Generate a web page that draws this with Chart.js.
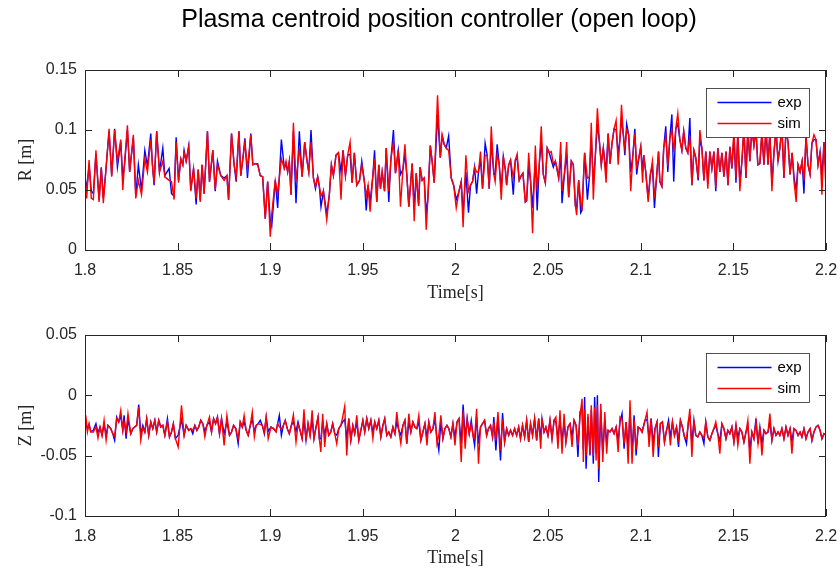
<!DOCTYPE html>
<html lang="en">
<head>
<meta charset="UTF-8">
<title>Plasma centroid position controller</title>
<script src="https://cdn.jsdelivr.net/npm/chart.js"></script>
<style>
    body {
        margin: 0;
        width: 840px;
        height: 572px;
        position: relative;
        overflow: hidden;
        background: #fff;
        font-family: 'Liberation Sans', Arial, sans-serif;
    }
    #title {
        position: absolute;
        top: 4px;
        left: 0;
        width: 840px;
        padding-left: 38px;
        box-sizing: border-box;
        text-align: center;
        font-size: 25px;
        line-height: 28px;
        color: #000;
        z-index: 2;
    }
    .panel { position: absolute; left: 0; }
</style>
</head>
<body>
<div id="title">Plasma centroid position controller (open loop)</div>
<canvas id="rChart" class="panel" style="top:0" width="840" height="310"></canvas>
<canvas id="zChart" class="panel" style="top:310px" width="840" height="262"></canvas>

<script>
// time axis ticks
const xTicks = [1.8, 1.85, 1.9, 1.95, 2.0, 2.05, 2.1, 2.15, 2.2];
const xTickLabels = ['1.8', '1.85', '1.9', '1.95', '2', '2.05', '2.1', '2.15', '2.2'];
const rTicks = [0, 0.05, 0.1, 0.15];
const rTickLabels = ['0', '0.05', '0.1', '0.15'];
const zTicks = [-0.1, -0.05, 0, 0.05];
const zTickLabels = ['-0.1', '-0.05', '0', '0.05'];
const seriesNames = ['exp', 'sim'];

// R position [m]
const tR = [
    1.8000,1.8009,1.8022,1.8034,1.8045,1.8059,1.8076,1.8088,1.8099,1.8112,
    1.8130,1.8144,1.8160,1.8175,1.8193,1.8204,1.8214,1.8229,1.8241,1.8261,
    1.8274,1.8288,1.8305,1.8323,1.8337,1.8355,1.8364,1.8373,1.8387,1.8402,
    1.8420,1.8431,1.8454,1.8467,1.8481,1.8492,1.8505,1.8517,1.8528,1.8535,
    1.8546,1.8560,1.8571,1.8586,1.8600,1.8611,1.8622,1.8632,1.8643,1.8661,
    1.8672,1.8690,1.8703,1.8715,1.8733,1.8751,1.8766,1.8775,1.8791,1.8805,
    1.8816,1.8831,1.8841,1.8852,1.8863,1.8877,1.8895,1.8906,1.8921,1.8932,
    1.8946,1.8959,1.8973,1.8986,1.9000,1.9008,1.9027,1.9040,1.9060,1.9076,
    1.9085,1.9094,1.9103,1.9112,1.9125,1.9139,1.9157,1.9172,1.9186,1.9197,
    1.9208,1.9220,1.9233,1.9244,1.9256,1.9265,1.9274,1.9287,1.9305,1.9319,
    1.9330,1.9341,1.9355,1.9368,1.9382,1.9393,1.9406,1.9418,1.9431,1.9442,
    1.9454,1.9467,1.9482,1.9494,1.9509,1.9518,1.9528,1.9539,1.9554,1.9563,
    1.9575,1.9586,1.9595,1.9604,1.9617,1.9626,1.9640,1.9651,1.9665,1.9676,
    1.9691,1.9703,1.9716,1.9727,1.9737,1.9748,1.9766,1.9777,1.9788,1.9801,
    1.9809,1.9820,1.9831,1.9842,1.9851,1.9864,1.9874,1.9885,1.9903,1.9918,
    1.9928,1.9939,1.9950,1.9963,1.9977,1.9990,2.0004,2.0019,2.0031,2.0041,
    2.0056,2.0070,2.0081,2.0092,2.0103,2.0114,2.0124,2.0135,2.0146,2.0160,
    2.0171,2.0182,2.0193,2.0207,2.0214,2.0225,2.0236,2.0247,2.0258,2.0269,
    2.0276,2.0287,2.0297,2.0312,2.0323,2.0333,2.0344,2.0355,2.0364,2.0377,
    2.0384,2.0395,2.0405,2.0416,2.0431,2.0441,2.0452,2.0463,2.0474,2.0485,
    2.0495,2.0506,2.0517,2.0528,2.0539,2.0546,2.0557,2.0568,2.0575,2.0589,
    2.0600,2.0611,2.0625,2.0636,2.0647,2.0654,2.0665,2.0676,2.0683,2.0697,
    2.0712,2.0723,2.0733,2.0744,2.0755,2.0766,2.0777,2.0787,2.0798,2.0813,
    2.0824,2.0834,2.0845,2.0856,2.0867,2.0878,2.0888,2.0896,2.0906,2.0914,
    2.0924,2.0935,2.0946,2.0957,2.0968,2.0978,2.0989,2.1000,2.1010,2.1016,
    2.1027,2.1040,2.1052,2.1063,2.1074,2.1085,2.1096,2.1103,2.1114,2.1124,
    2.1135,2.1146,2.1157,2.1168,2.1178,2.1189,2.1200,2.1211,2.1222,2.1232,
    2.1243,2.1254,2.1265,2.1276,2.1287,2.1297,2.1310,2.1319,2.1330,2.1341,
    2.1351,2.1362,2.1373,2.1384,2.1395,2.1405,2.1416,2.1427,2.1438,2.1449,
    2.1460,2.1471,2.1481,2.1492,2.1503,2.1514,2.1524,2.1535,2.1546,2.1557,
    2.1568,2.1578,2.1589,2.1600,2.1611,2.1622,2.1632,2.1643,2.1654,2.1665,
    2.1676,2.1687,2.1697,2.1708,2.1719,2.1730,2.1741,2.1751,2.1762,2.1773,
    2.1784,2.1795,2.1806,2.1817,2.1828,2.1839,2.1849,2.1860,2.1871,2.1881,
    2.1892,2.1903,2.1914,2.1924,2.1935,2.1946,2.1957,2.1968,2.1978,2.1989,
    2.2000
];
const rExp = [
    .062,.050,.071,.049,.047,.080,.042,.069,.043,.065,
    .099,.062,.101,.069,.090,.060,.072,.100,.065,.094,
    .045,.071,.050,.083,.070,.097,.071,.054,.099,.065,
    .085,.062,.068,.047,.045,.094,.058,.076,.071,.083,
    .074,.087,.050,.068,.038,.067,.042,.071,.047,.099,
    .057,.083,.049,.074,.062,.060,.062,.042,.097,.071,
    .057,.099,.062,.076,.093,.060,.097,.071,.072,.072,
    .062,.061,.026,.057,.025,.020,.058,.035,.092,.068,
    .072,.065,.074,.046,.099,.039,.099,.061,.090,.076,
    .065,.100,.060,.051,.061,.053,.036,.049,.030,.046,
    .071,.062,.079,.081,.065,.083,.062,.079,.080,.056,
    .081,.054,.058,.074,.056,.033,.054,.040,.062,.083,
    .040,.071,.051,.065,.049,.085,.040,.075,.100,.064,
    .083,.063,.067,.080,.063,.036,.072,.035,.064,.037,
    .069,.058,.060,.030,.043,.087,.074,.056,.113,.077,
    .095,.088,.085,.095,.060,.054,.042,.049,.057,.030,
    .065,.031,.054,.057,.069,.047,.065,.075,.051,.089,
    .079,.051,.090,.063,.063,.088,.071,.050,.078,.067,
    .054,.071,.075,.046,.075,.076,.058,.062,.064,.040,
    .041,.070,.058,.035,.075,.033,.071,.090,.063,.056,
    .085,.081,.075,.069,.074,.069,.060,.080,.039,.065,
    .080,.044,.074,.071,.037,.036,.058,.031,.033,.081,
    .042,.061,.095,.055,.079,.105,.090,.071,.085,.065,
    .097,.072,.089,.101,.100,.080,.093,.110,.096,.079,
    .105,.096,.065,.078,.101,.063,.076,.086,.065,.079,
    .065,.043,.063,.070,.035,.060,.082,.057,.053,.085,
    .103,.065,.093,.113,.057,.101,.105,.092,.083,.099,
    .085,.081,.110,.054,.083,.077,.058,.092,.085,.058,
    .082,.055,.082,.068,.082,.049,.085,.065,.081,.061,
    .082,.054,.086,.068,.095,.056,.098,.056,.074,.100,
    .060,.100,.074,.103,.087,.100,.071,.072,.097,.071,
    .101,.071,.098,.055,.081,.100,.074,.085,.104,.060,
    .100,.090,.063,.081,.060,.050,.071,.065,.074,.047,
    .096,.071,.063,.089,.092,.092,.071,.082,.060,.090,
    .065
];
const rSim = [
    .062,.043,.075,.043,.042,.083,.040,.068,.039,.065,
    .101,.061,.100,.074,.092,.050,.074,.104,.065,.096,
    .043,.058,.046,.076,.065,.092,.071,.056,.099,.065,
    .074,.061,.058,.057,.042,.090,.056,.076,.071,.081,
    .074,.086,.049,.068,.043,.067,.040,.071,.047,.099,
    .057,.083,.050,.071,.062,.058,.062,.042,.097,.071,
    .061,.099,.062,.076,.089,.068,.096,.071,.072,.071,
    .062,.061,.026,.057,.011,.030,.058,.047,.076,.068,
    .074,.065,.074,.046,.106,.057,.085,.061,.090,.076,
    .065,.090,.060,.053,.061,.053,.045,.049,.025,.046,
    .071,.062,.079,.081,.042,.083,.062,.079,.090,.056,
    .081,.054,.058,.071,.056,.045,.054,.032,.062,.076,
    .040,.071,.051,.065,.049,.085,.049,.075,.090,.064,
    .083,.036,.067,.088,.063,.036,.072,.024,.064,.037,
    .069,.058,.060,.017,.043,.087,.074,.056,.129,.077,
    .096,.088,.085,.083,.060,.054,.035,.049,.057,.019,
    .079,.049,.054,.057,.069,.065,.065,.082,.051,.079,
    .079,.051,.103,.063,.057,.080,.071,.042,.078,.067,
    .054,.071,.075,.060,.075,.080,.058,.062,.064,.040,
    .041,.081,.058,.014,.087,.050,.071,.103,.063,.056,
    .085,.081,.082,.072,.074,.069,.060,.090,.049,.065,
    .090,.044,.074,.071,.037,.029,.058,.040,.033,.081,
    .060,.061,.106,.042,.079,.118,.090,.071,.085,.056,
    .097,.072,.089,.101,.108,.071,.093,.121,.096,.085,
    .100,.096,.049,.078,.097,.070,.076,.086,.056,.079,
    .065,.040,.063,.074,.043,.060,.082,.057,.053,.085,
    .095,.070,.093,.100,.082,.101,.114,.092,.083,.099,
    .085,.081,.095,.054,.083,.077,.060,.100,.085,.058,
    .082,.051,.082,.068,.082,.052,.085,.065,.081,.061,
    .082,.054,.086,.068,.100,.060,.098,.049,.074,.104,
    .060,.103,.074,.100,.087,.102,.071,.072,.100,.071,
    .104,.071,.098,.049,.081,.102,.074,.085,.101,.060,
    .102,.090,.063,.081,.056,.040,.071,.065,.074,.058,
    .094,.071,.063,.089,.096,.092,.071,.082,.046,.090,
    .050
];

// Z position [m]
const tZ = [
    1.8004,1.8013,1.8022,1.8031,1.8045,1.8059,1.8070,1.8081,1.8092,1.8103,
    1.8114,1.8124,1.8139,1.8150,1.8160,1.8171,1.8182,1.8193,1.8204,1.8211,
    1.8222,1.8232,1.8247,1.8258,1.8268,1.8279,1.8290,1.8301,1.8312,1.8323,
    1.8333,1.8344,1.8355,1.8366,1.8377,1.8387,1.8398,1.8409,1.8420,1.8431,
    1.8445,1.8456,1.8467,1.8477,1.8488,1.8503,1.8521,1.8535,1.8546,1.8560,
    1.8571,1.8582,1.8593,1.8604,1.8614,1.8625,1.8636,1.8647,1.8658,1.8672,
    1.8683,1.8694,1.8705,1.8715,1.8726,1.8737,1.8751,1.8766,1.8780,1.8791,
    1.8802,1.8814,1.8827,1.8838,1.8849,1.8859,1.8870,1.8881,1.8892,1.8903,
    1.8914,1.8924,1.8935,1.8946,1.8957,1.8968,1.8978,1.8989,1.9004,1.9018,
    1.9031,1.9040,1.9049,1.9060,1.9071,1.9081,1.9092,1.9103,1.9114,1.9125,
    1.9139,1.9150,1.9161,1.9172,1.9182,1.9193,1.9204,1.9215,1.9226,1.9236,
    1.9247,1.9258,1.9265,1.9273,1.9283,1.9294,1.9305,1.9316,1.9327,1.9337,
    1.9348,1.9359,1.9370,1.9381,1.9391,1.9402,1.9413,1.9424,1.9435,1.9446,
    1.9456,1.9467,1.9478,1.9489,1.9500,1.9510,1.9521,1.9532,1.9543,1.9554,
    1.9564,1.9575,1.9586,1.9597,1.9608,1.9618,1.9629,1.9640,1.9651,1.9662,
    1.9673,1.9683,1.9694,1.9705,1.9716,1.9727,1.9737,1.9748,1.9759,1.9770,
    1.9781,1.9791,1.9802,1.9813,1.9824,1.9835,1.9846,1.9856,1.9867,1.9878,
    1.9889,1.9900,1.9910,1.9921,1.9932,1.9943,1.9954,1.9964,1.9975,1.9986,
    1.9997,2.0008,2.0019,2.0031,2.0041,2.0052,2.0063,2.0074,2.0085,2.0096,
    2.0103,2.0114,2.0124,2.0135,2.0146,2.0157,2.0168,2.0178,2.0189,2.0200,
    2.0207,2.0218,2.0229,2.0243,2.0254,2.0265,2.0276,2.0287,2.0297,2.0308,
    2.0319,2.0330,2.0341,2.0351,2.0362,2.0373,2.0384,2.0395,2.0405,2.0416,
    2.0427,2.0438,2.0449,2.0460,2.0467,2.0478,2.0488,2.0499,2.0510,2.0521,
    2.0532,2.0542,2.0553,2.0564,2.0575,2.0586,2.0596,2.0607,2.0618,2.0629,
    2.0640,2.0651,2.0661,2.0672,2.0683,2.0690,2.0697,2.0705,2.0715,2.0726,
    2.0733,2.0744,2.0751,2.0759,2.0766,2.0773,2.0784,2.0795,2.0806,2.0816,
    2.0824,2.0834,2.0845,2.0856,2.0867,2.0878,2.0888,2.0899,2.0910,2.0921,
    2.0932,2.0942,2.0953,2.0964,2.0975,2.0986,2.0997,2.1007,2.1023,2.1034,
    2.1045,2.1056,2.1067,2.1077,2.1088,2.1095,2.1106,2.1117,2.1128,2.1139,
    2.1150,2.1160,2.1171,2.1182,2.1193,2.1204,2.1214,2.1225,2.1236,2.1247,
    2.1258,2.1265,2.1276,2.1287,2.1297,2.1308,2.1319,2.1330,2.1341,2.1351,
    2.1362,2.1373,2.1384,2.1395,2.1405,2.1416,2.1427,2.1438,2.1449,2.1460,
    2.1470,2.1481,2.1492,2.1503,2.1514,2.1524,2.1535,2.1546,2.1557,2.1568,
    2.1578,2.1589,2.1600,2.1611,2.1622,2.1633,2.1643,2.1654,2.1665,2.1676,
    2.1687,2.1697,2.1708,2.1719,2.1730,2.1741,2.1751,2.1762,2.1773,2.1784,
    2.1795,2.1806,2.1816,2.1827,2.1838,2.1849,2.1860,2.1870,2.1881,2.1892,
    2.1903,2.1914,2.1924,2.1935,2.1946,2.1957,2.1968,2.1978,2.1989,2.2000
];
const zExp = [
    -.0220,-.0280,-.0240,-.0300,-.0290,-.0235,-.0310,-.0263,-.0332,-.0240,
    -.0330,-.0249,-.0276,-.0318,-.0373,-.0180,-.0221,-.0170,-.0290,-.0166,
    -.0359,-.0200,-.0318,-.0276,-.0263,-.0249,-.0077,-.0320,-.0249,-.0304,
    -.0193,-.0332,-.0221,-.0276,-.0207,-.0304,-.0207,-.0263,-.0249,-.0332,
    -.0193,-.0345,-.0304,-.0235,-.0359,-.0330,-.0200,-.0332,-.0249,-.0290,
    -.0276,-.0318,-.0249,-.0290,-.0263,-.0207,-.0235,-.0300,-.0249,-.0220,
    -.0304,-.0193,-.0235,-.0180,-.0318,-.0193,-.0320,-.0220,-.0332,-.0304,
    -.0249,-.0276,-.0401,-.0221,-.0263,-.0220,-.0290,-.0332,-.0249,-.0200,
    -.0300,-.0249,-.0235,-.0207,-.0249,-.0318,-.0180,-.0300,-.0263,-.0276,
    -.0300,-.0235,-.0166,-.0332,-.0249,-.0207,-.0276,-.0318,-.0249,-.0220,
    -.0300,-.0221,-.0290,-.0359,-.0200,-.0373,-.0235,-.0332,-.0200,-.0359,
    -.0263,-.0180,-.0359,-.0360,-.0220,-.0330,-.0235,-.0332,-.0304,-.0235,
    -.0318,-.0330,-.0276,-.0249,-.0220,-.0200,-.0360,-.0193,-.0373,-.0249,
    -.0318,-.0220,-.0373,-.0290,-.0207,-.0304,-.0193,-.0276,-.0207,-.0310,
    -.0221,-.0276,-.0207,-.0345,-.0249,-.0193,-.0332,-.0304,-.0345,-.0263,
    -.0318,-.0220,-.0290,-.0330,-.0249,-.0207,-.0401,-.0220,-.0304,-.0221,
    -.0263,-.0276,-.0220,-.0373,-.0304,-.0235,-.0350,-.0221,-.0304,-.0276,
    -.0200,-.0360,-.0456,-.0220,-.0359,-.0276,-.0249,-.0276,-.0345,-.0235,
    -.0350,-.0221,-.0193,-.0400,-.0077,-.0350,-.0193,-.0318,-.0207,-.0345,
    -.0415,-.0180,-.0400,-.0263,-.0235,-.0207,-.0332,-.0276,-.0249,-.0345,
    -.0180,-.0456,-.0180,-.0539,-.0146,-.0387,-.0276,-.0332,-.0290,-.0332,
    -.0276,-.0332,-.0263,-.0359,-.0249,-.0345,-.0207,-.0387,-.0235,-.0332,
    -.0193,-.0373,-.0193,-.0360,-.0193,-.0304,-.0263,-.0332,-.0207,-.0359,
    -.0207,-.0220,-.0360,-.0200,-.0380,-.0220,-.0387,-.0263,-.0235,-.0340,
    -.0207,-.0249,-.0511,-.0138,-.0100,-.0450,-.0014,-.0608,-.0180,-.0498,
    -.0120,-.0567,-.0014,-.0480,.0000,-.0719,-.0120,-.0480,-.0200,-.0400,
    -.0290,-.0304,-.0276,-.0318,-.0263,-.0380,-.0220,-.0152,-.0442,-.0221,
    -.0450,-.0120,-.0480,-.0166,-.0498,-.0263,-.0276,-.0304,-.0207,-.0200,
    -.0360,-.0193,-.0400,-.0276,-.0221,-.0511,-.0235,-.0221,-.0387,-.0290,
    -.0207,-.0350,-.0221,-.0332,-.0263,-.0428,-.0207,-.0263,-.0345,-.0401,
    -.0207,-.0180,-.0400,-.0207,-.0332,-.0345,-.0304,-.0332,-.0401,-.0221,
    -.0345,-.0373,-.0318,-.0276,-.0250,-.0318,-.0380,-.0235,-.0276,-.0359,
    -.0290,-.0318,-.0263,-.0387,-.0249,-.0350,-.0276,-.0304,-.0387,-.0304,
    -.0250,-.0450,-.0304,-.0359,-.0193,-.0401,-.0263,-.0400,-.0290,-.0318,
    -.0304,-.0220,-.0373,-.0276,-.0332,-.0304,-.0332,-.0276,-.0359,-.0263,
    -.0332,-.0276,-.0380,-.0276,-.0290,-.0332,-.0304,-.0345,-.0276,-.0359,
    -.0304,-.0276,-.0373,-.0304,-.0263,-.0249,-.0290,-.0359,-.0318,-.0332
];
const zSim = [
    -.0166,-.0304,-.0235,-.0304,-.0304,-.0260,-.0354,-.0263,-.0332,-.0207,
    -.0373,-.0249,-.0276,-.0318,-.0340,-.0193,-.0221,-.0124,-.0290,-.0220,
    -.0304,-.0152,-.0318,-.0276,-.0263,-.0249,-.0097,-.0373,-.0270,-.0304,
    -.0193,-.0332,-.0221,-.0276,-.0207,-.0304,-.0207,-.0263,-.0249,-.0332,
    -.0220,-.0345,-.0304,-.0235,-.0359,-.0428,-.0083,-.0332,-.0249,-.0290,
    -.0276,-.0290,-.0249,-.0290,-.0263,-.0207,-.0235,-.0345,-.0249,-.0180,
    -.0304,-.0193,-.0235,-.0180,-.0318,-.0193,-.0415,-.0166,-.0332,-.0304,
    -.0249,-.0276,-.0359,-.0221,-.0263,-.0166,-.0290,-.0332,-.0249,-.0138,
    -.0345,-.0249,-.0235,-.0240,-.0249,-.0304,-.0180,-.0359,-.0263,-.0276,
    -.0304,-.0235,-.0260,-.0280,-.0249,-.0207,-.0276,-.0318,-.0249,-.0160,
    -.0387,-.0240,-.0290,-.0359,-.0116,-.0373,-.0235,-.0332,-.0124,-.0359,
    -.0263,-.0180,-.0359,-.0470,-.0152,-.0428,-.0235,-.0332,-.0304,-.0235,
    -.0318,-.0401,-.0276,-.0249,-.0180,-.0090,-.0498,-.0193,-.0373,-.0249,
    -.0318,-.0166,-.0373,-.0290,-.0207,-.0304,-.0193,-.0276,-.0207,-.0359,
    -.0221,-.0276,-.0207,-.0345,-.0249,-.0193,-.0332,-.0304,-.0345,-.0263,
    -.0318,-.0138,-.0290,-.0401,-.0249,-.0207,-.0401,-.0152,-.0304,-.0221,
    -.0263,-.0276,-.0166,-.0373,-.0304,-.0235,-.0415,-.0221,-.0304,-.0276,
    -.0138,-.0401,-.0330,-.0166,-.0359,-.0276,-.0249,-.0276,-.0345,-.0235,
    -.0415,-.0221,-.0193,-.0553,-.0124,-.0442,-.0193,-.0318,-.0240,-.0345,
    -.0360,-.0111,-.0567,-.0263,-.0235,-.0207,-.0332,-.0276,-.0249,-.0345,
    -.0220,-.0373,-.0138,-.0456,-.0200,-.0387,-.0276,-.0332,-.0290,-.0332,
    -.0276,-.0332,-.0263,-.0359,-.0249,-.0345,-.0207,-.0387,-.0235,-.0332,
    -.0193,-.0373,-.0193,-.0442,-.0193,-.0304,-.0263,-.0332,-.0207,-.0359,
    -.0207,-.0180,-.0442,-.0124,-.0484,-.0152,-.0387,-.0263,-.0235,-.0428,
    -.0207,-.0249,-.0415,-.0180,-.0028,-.0553,-.0120,-.0500,-.0152,-.0480,
    -.0083,-.0500,-.0100,-.0539,-.0080,-.0608,-.0069,-.0553,-.0138,-.0484,
    -.0290,-.0304,-.0276,-.0318,-.0263,-.0470,-.0180,-.0200,-.0400,-.0221,
    -.0567,-.0041,-.0567,-.0200,-.0450,-.0263,-.0276,-.0304,-.0207,-.0138,
    -.0428,-.0193,-.0511,-.0276,-.0221,-.0428,-.0235,-.0221,-.0387,-.0290,
    -.0240,-.0415,-.0221,-.0332,-.0263,-.0360,-.0207,-.0263,-.0345,-.0360,
    -.0207,-.0111,-.0511,-.0207,-.0332,-.0345,-.0304,-.0332,-.0350,-.0221,
    -.0345,-.0373,-.0318,-.0276,-.0221,-.0318,-.0484,-.0235,-.0276,-.0359,
    -.0290,-.0318,-.0263,-.0387,-.0249,-.0415,-.0276,-.0304,-.0387,-.0304,
    -.0207,-.0567,-.0304,-.0359,-.0220,-.0401,-.0263,-.0498,-.0290,-.0318,
    -.0304,-.0152,-.0373,-.0276,-.0332,-.0304,-.0332,-.0276,-.0359,-.0263,
    -.0332,-.0276,-.0484,-.0276,-.0290,-.0332,-.0304,-.0345,-.0276,-.0359,
    -.0304,-.0276,-.0373,-.0304,-.0263,-.0249,-.0290,-.0359,-.0318,-.0332
];

const axisColor = '#262626';
const sansFont = "'Liberation Sans', Arial, sans-serif";
const serifFont = "'Liberation Serif', 'Times New Roman', serif";

// matlab style box: frame, inward ticks on all four sides, boxed legend
const matlabBox = {
    id: 'matlabBox',
    afterDraw(chart) {
        const { ctx, chartArea: a, scales: { x, y } } = chart;
        ctx.save();
        ctx.strokeStyle = axisColor;
        ctx.lineWidth = 1;
        ctx.strokeRect(Math.round(a.left) + 0.5, Math.round(a.top) + 0.5,
            Math.round(a.width) - 1, Math.round(a.height));
        ctx.beginPath();
        x.ticks.forEach(t => {
            const px = Math.round(x.getPixelForValue(t.value)) + 0.5;
            ctx.moveTo(px, a.bottom); ctx.lineTo(px, a.bottom - 7);
            ctx.moveTo(px, a.top); ctx.lineTo(px, a.top + 7);
        });
        y.ticks.forEach(t => {
            const py = Math.round(y.getPixelForValue(t.value)) + 0.5;
            ctx.moveTo(a.left, py); ctx.lineTo(a.left + 7, py);
            ctx.moveTo(a.right, py); ctx.lineTo(a.right - 7, py);
        });
        ctx.stroke();

        // legend
        const bw = 103, bh = 49;
        const bx = Math.round(a.right - 17 - bw) + 0.5;
        const by = Math.round(a.top + 18) + 0.5;
        ctx.fillStyle = '#fff';
        ctx.fillRect(bx, by, bw, bh);
        ctx.strokeStyle = axisColor;
        ctx.lineWidth = 0.8;
        ctx.strokeRect(bx, by, bw, bh);
        ctx.font = '15px ' + sansFont;
        ctx.textBaseline = 'middle';
        chart.data.datasets.forEach((ds, i) => {
            const ly = by + 14 + i * 21;
            ctx.strokeStyle = ds.borderColor;
            ctx.lineWidth = 1.3;
            ctx.beginPath();
            ctx.moveTo(bx + 11, ly); ctx.lineTo(bx + 65, ly);
            ctx.stroke();
            ctx.fillStyle = '#000';
            ctx.fillText(ds.label, bx + 71, ly);
        });
        ctx.restore();
    }
};

function noEdgePadding(s) {
    s.paddingLeft = 0;
    s.paddingRight = 0;
    s.paddingTop = 0;
    s.paddingBottom = 0;
}

function makeChart(id, t, exp, sim, yMin, yMax, yTicks, yLabels, yTitle, padTop, xAxisH, xTitlePad) {
    return new Chart(document.getElementById(id), {
        type: 'line',
        data: {
            datasets: [
                { label: seriesNames[0], data: t.map((v, i) => ({ x: v, y: exp[i] })), borderColor: '#0000ff', order: 2 },
                { label: seriesNames[1], data: t.map((v, i) => ({ x: v, y: sim[i] })), borderColor: '#ff0000', order: 1 }
            ]
        },
        options: {
            responsive: false,
            animation: false,
            events: [],
            elements: {
                point: { radius: 0 },
                line: { borderWidth: 1.4, tension: 0 }
            },
            layout: { padding: { top: padTop, right: 14, bottom: 0, left: 0 } },
            plugins: { legend: { display: false }, tooltip: { enabled: false } },
            scales: {
                x: {
                    type: 'linear',
                    min: 1.8,
                    max: 2.2,
                    afterBuildTicks: s => { s.ticks = xTicks.map(v => ({ value: v })); },
                    afterFit: s => { s.height = xAxisH; noEdgePadding(s); },
                    grid: { display: false, drawTicks: false },
                    border: { display: false },
                    ticks: {
                        autoSkip: false, maxRotation: 0, padding: 11,
                        color: axisColor, font: { family: sansFont, size: 16 },
                        callback: (v, i) => xTickLabels[i]
                    },
                    title: {
                        display: true, text: 'Time[s]', color: axisColor,
                        font: { family: serifFont, size: 18 },
                        padding: { top: 0, bottom: xTitlePad }
                    }
                },
                y: {
                    min: yMin,
                    max: yMax,
                    afterBuildTicks: s => { s.ticks = yTicks.map(v => ({ value: v })); },
                    afterFit: s => { s.width = 85; noEdgePadding(s); },
                    grid: { display: false, drawTicks: false },
                    border: { display: false },
                    ticks: {
                        autoSkip: false, padding: 8,
                        color: axisColor, font: { family: sansFont, size: 16 },
                        callback: (v, i) => yLabels[i]
                    },
                    title: {
                        display: true, text: yTitle, color: axisColor,
                        font: { family: serifFont, size: 18 },
                        padding: { top: 15, bottom: 0 }
                    }
                }
            }
        },
        plugins: [matlabBox]
    });
}

makeChart('rChart', tR, rExp, rSim, 0, 0.15, rTicks, rTickLabels, 'R [m]', 70, 60, 6);
makeChart('zChart', tZ, zExp, zSim, -0.1, 0.05, zTicks, zTickLabels, 'Z [m]', 25, 56, 3);
</script>
</body>
</html>
